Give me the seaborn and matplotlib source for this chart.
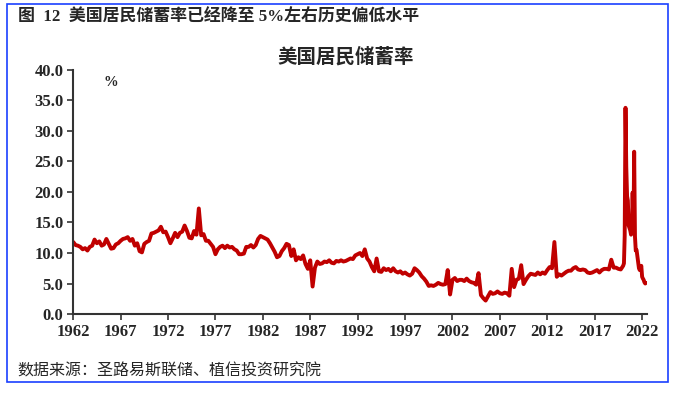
import matplotlib
matplotlib.use("Agg")
import matplotlib.pyplot as plt
import seaborn as sns
import pandas as pd
from matplotlib.patches import Rectangle

# 季度数据 1962Q1-2019Q4（储蓄率 %，从图上读取）
rate_q = [
    11.8, 11.3, 11.2, 11.0,  10.6, 10.8, 10.4, 11.0,  11.2, 12.2, 11.6, 11.9,
    11.2, 11.4, 12.3, 11.5,  10.7, 10.8, 11.4, 11.6,  12.0, 12.3, 12.4, 12.6,
    12.0, 12.3, 11.2, 11.6,  10.3, 10.1, 11.5, 11.8,  12.0, 13.2, 13.3, 13.5,
    13.7, 14.3, 13.4, 13.5,  12.6, 11.6, 12.4, 13.3,  12.6, 13.3, 13.5, 14.5,
    13.6, 12.5, 12.4, 13.6,  13.0, 17.3, 12.9, 13.1,  12.0, 12.0, 11.5, 11.0,
    9.8, 10.6, 11.0, 11.2,   10.8, 11.2, 10.9, 11.0,  10.6, 10.4, 9.8, 9.8,
    9.9, 11.0, 11.0, 11.3,   10.9, 11.3, 12.3, 12.8,  12.6, 12.4, 12.2, 11.6,
    10.9, 10.2, 9.3, 9.5,    10.3, 10.8, 11.5, 11.3,  9.5, 10.6, 8.8, 9.3,
    9.0, 9.6, 8.2, 7.4,      8.8, 4.5, 7.6, 8.6,      8.2, 8.3, 8.6, 8.5,
    8.8, 8.4, 8.3, 8.7,      8.6, 8.8, 8.6, 8.7,      8.9, 9.1, 9.0, 9.6,
    9.8, 10.0, 9.5, 10.6,    9.1, 8.6, 7.7, 7.0,      9.1, 7.0, 6.9, 7.5,
    7.2, 7.4, 7.0, 7.5,      7.0, 6.8, 7.0, 6.6,      6.8, 6.5, 6.3, 6.6,
    7.5, 7.2, 6.8, 6.2,      5.8, 5.3, 4.6, 4.7,      4.6, 4.8, 5.1, 4.9,
    4.8, 4.9, 7.2, 3.2,      5.6, 5.9, 5.4, 5.6,      5.6, 5.4, 5.8, 5.4,
    5.2, 5.1, 4.8, 6.7,      3.1, 2.6, 2.2, 2.9,      3.6, 3.3, 3.4, 3.7,
    3.4, 3.3, 3.5, 3.4,      3.0, 7.4, 4.4, 5.6,      5.8, 8.0, 4.9, 5.6,
    6.2, 6.6, 6.5, 6.4,      6.8, 6.5, 6.8, 6.6,      7.2, 7.7, 7.5, 11.8,
    6.1, 6.5, 6.3, 6.6,      6.9, 7.1, 7.1, 7.5,      7.7, 7.3, 7.2, 7.3,
    7.2, 6.8, 6.7, 6.8,      7.0, 7.2, 6.8, 7.2,      7.4, 7.4, 7.3, 8.9,
    7.6, 7.6, 7.4, 7.3,
]
# 月度数据 2020.01-2022.06
rate_m = [
    7.9, 8.3, 12.8, 33.8, 24.1, 19.3, 18.6, 14.5, 14.1, 13.7, 13.0, 13.3,
    19.9, 13.5, 26.6, 12.7, 10.4, 10.5, 9.5, 8.6, 7.5, 7.2, 7.5, 7.9,
    6.1, 5.8, 5.6, 5.2, 5.0, 5.1,
]
year_ticks = list(range(1962, 2023, 5))
y_ticks = [0, 5, 10, 15, 20, 25, 30, 35, 40]

dates = list(pd.date_range("1962-01-01", periods=len(rate_q), freq="QS")) + \
    list(pd.date_range("2020-01-01", periods=len(rate_m), freq="MS"))
df = pd.DataFrame({"date": dates, "rate": rate_q + rate_m})

sns.set_style("white")
cjk = ["Noto Sans CJK SC", "DejaVu Sans"]
serif = ["Liberation Serif", "Noto Sans CJK SC"]
plt.rcParams["font.family"] = cjk

fig = plt.figure(figsize=(6.78, 3.93), dpi=100)
ax = fig.add_axes([0.108, 0.201, 0.846, 0.621])

sns.lineplot(data=df, x="date", y="rate", color="#C00000", linewidth=2.8, ax=ax)

ax.set_xlim(pd.Timestamp("1962-01-01"), pd.Timestamp("2022-07-01"))
ax.set_ylim(0, 40)
ax.set_xticks([pd.Timestamp(f"{y}-01-01") for y in year_ticks])
ax.set_xticklabels([str(y) for y in year_ticks])
ax.set_yticks(y_ticks)
ax.set_yticklabels([f"{v:.1f}" for v in y_ticks])
for lab in ax.get_xticklabels() + ax.get_yticklabels():
    lab.set_family(serif)
    lab.set_fontweight("bold")
    lab.set_fontsize(12)
ax.tick_params(axis="both", direction="out", length=4, width=1.2, color="#333333",
               pad=3, bottom=True, left=True)
ax.set_xlabel("")
ax.set_ylabel("")
for s in ["top", "right"]:
    ax.spines[s].set_visible(False)
for s in ["left", "bottom"]:
    ax.spines[s].set_color("#333333")
    ax.spines[s].set_linewidth(1.5)

ax.text(0.065, 0.95, "%", transform=ax.transAxes, family=serif, fontweight="bold",
        fontsize=10.5, ha="center", va="center")

fig.text(0.51, 0.855, "美国居民储蓄率", ha="center", va="center", fontsize=14,
         fontweight="bold")
fig.text(0.026, 0.956, "图  12  美国居民储蓄率已经降至 5%左右历史偏低水平", ha="left",
         va="center", fontsize=12.2, fontweight="bold", family=serif)
fig.text(0.025, 0.056, "数据来源：圣路易斯联储、植信投资研究院", ha="left", va="center",
         fontsize=11.5)

fig.patches.append(Rectangle((0.0103, 0.028), 0.975, 0.962, transform=fig.transFigure,
                             fill=False, edgecolor="#1A40FF", linewidth=1.2))

fig.savefig("out.png", dpi=100)
